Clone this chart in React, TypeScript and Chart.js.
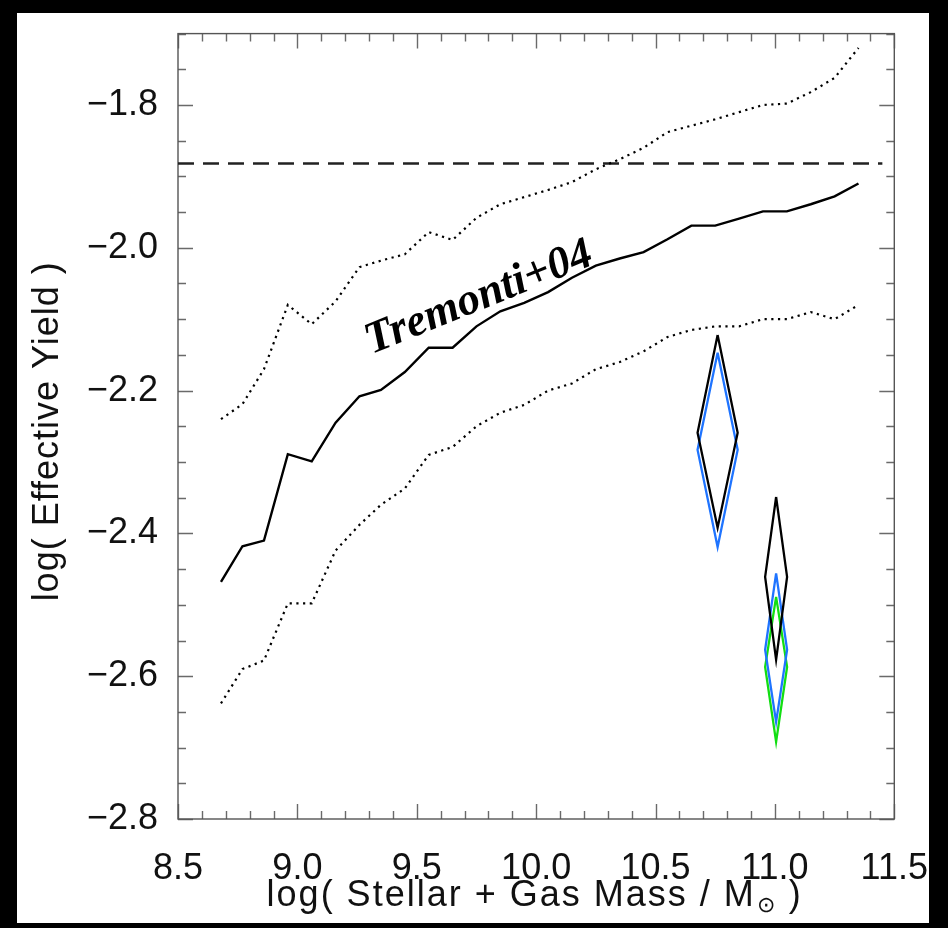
import React, { useEffect, useRef } from 'react';
import { Chart, registerables } from 'chart.js';

Chart.register(...registerables);

// ---- data ----
const massBins = [8.68, 8.77, 8.86, 8.96, 9.06, 9.16, 9.26, 9.35, 9.45, 9.55, 9.65, 9.75, 9.85, 9.95, 10.05, 10.15, 10.25, 10.35, 10.45, 10.55, 10.65, 10.75, 10.85, 10.95, 11.05, 11.15, 11.25, 11.35];
const medianYield = [-2.468, -2.418, -2.41, -2.289, -2.299, -2.245, -2.208, -2.199, -2.174, -2.14, -2.14, -2.11, -2.089, -2.077, -2.062, -2.042, -2.025, -2.015, -2.006, -1.988, -1.969, -1.969, -1.959, -1.949, -1.949, -1.939, -1.928, -1.91];
const upperYield = [-2.24, -2.219, -2.17, -2.08, -2.107, -2.075, -2.027, -2.018, -2.009, -1.978, -1.989, -1.958, -1.939, -1.929, -1.919, -1.908, -1.89, -1.876, -1.86, -1.838, -1.829, -1.82, -1.81, -1.8, -1.798, -1.782, -1.762, -1.72];
const lowerYield = [-2.638, -2.59, -2.578, -2.498, -2.498, -2.424, -2.388, -2.36, -2.337, -2.29, -2.279, -2.25, -2.231, -2.22, -2.2, -2.19, -2.17, -2.16, -2.145, -2.125, -2.115, -2.11, -2.11, -2.1, -2.1, -2.09, -2.1, -2.08];
const trueYield = -1.882;

const diamondX = [10.76, 10.76, 11.005, 11.005, 11.005];
const diamondHalfX = [0.084, 0.084, 0.046, 0.046, 0.046];
const diamondTop = [-2.122, -2.147, -2.349, -2.456, -2.489];
const diamondMid = [-2.259, -2.283, -2.461, -2.563, -2.587];
const diamondBottom = [-2.392, -2.419, -2.577, -2.664, -2.692];

const xTickLabels = ['8.5', '9.0', '9.5', '10.0', '10.5', '11.0', '11.5'];
const yTickLabels = ['−2.8', '−2.6', '−2.4', '−2.2', '−2.0', '−1.8'];
const labelText = 'Tremonti+04';
const labelPos = [9.31, -2.149];
const xTitle = ['log( Stellar + Gas Mass / M', '⊙', ' )'];
const yTitle = 'log( Effective Yield )';

// ---- styles ----
const diamondColors = ['#000000', '#1f74ff', '#000000', '#1f74ff', '#12de12'];
const diamondOrder = [1, 2, 1, 2, 3];
const SANS = '"Liberation Sans", Arial, sans-serif';

const framePlugin = {
  id: 'idlFrame',
  beforeDraw(chart: any) {
    const { ctx, width, height } = chart;
    ctx.save();
    ctx.fillStyle = '#000';
    ctx.fillRect(0, 0, width, height);
    ctx.fillStyle = '#fff';
    ctx.fillRect(17, 13, 912, 910);
    ctx.restore();
  },
  beforeDatasetsDraw(chart: any) {
    const { ctx, chartArea } = chart;
    const { left, right, top, bottom } = chartArea;
    const xs = chart.scales.x;
    const ys = chart.scales.y;
    ctx.save();
    ctx.strokeStyle = '#6a6a6a';
    ctx.lineWidth = 1.4;
    ctx.beginPath();
    for (let i = 0; i <= 30; i++) {
      const v = xs.min + i * 0.1;
      const p = Math.round(xs.getPixelForValue(v)) + 0.5;
      const len = i % 5 === 0 ? 15 : 8;
      ctx.moveTo(p, bottom);
      ctx.lineTo(p, bottom - len);
      ctx.moveTo(p, top);
      ctx.lineTo(p, top + len);
    }
    for (let i = 0; i <= 22; i++) {
      const v = ys.min + i * 0.05;
      const p = Math.round(ys.getPixelForValue(v)) + 0.5;
      const len = i % 4 === 0 ? 15 : 8;
      ctx.moveTo(left, p);
      ctx.lineTo(left + len, p);
      ctx.moveTo(right, p);
      ctx.lineTo(right - len, p);
    }
    ctx.stroke();
    ctx.strokeStyle = '#555';
    ctx.strokeRect(left, top, right - left, bottom - top);
    ctx.restore();
  },
  afterDraw(chart: any) {
    const { ctx, chartArea } = chart;
    const xs = chart.scales.x;
    const ys = chart.scales.y;

    // annotation
    ctx.save();
    ctx.fillStyle = '#000';
    ctx.font = 'italic bold 45px "Liberation Serif", "Times New Roman", serif';
    ctx.textAlign = 'left';
    ctx.textBaseline = 'alphabetic';
    ctx.translate(xs.getPixelForValue(labelPos[0]), ys.getPixelForValue(labelPos[1]));
    ctx.rotate((-22 * Math.PI) / 180);
    ctx.fillText(labelText, 0, 0);
    ctx.restore();

    // x-axis title with subscript
    ctx.save();
    ctx.fillStyle = '#111';
    ctx.textBaseline = 'alphabetic';
    ctx.textAlign = 'left';
    (ctx as any).letterSpacing = '2px';
    ctx.font = `36px ${SANS}`;
    const w1 = ctx.measureText(xTitle[0]).width;
    const w2 = ctx.measureText(xTitle[2]).width;
    ctx.font = `22px ${SANS}`;
    const ws = ctx.measureText(xTitle[1]).width;
    const cx = (chartArea.left + chartArea.right) / 2 - 2;
    const base = 906;
    let x = cx - (w1 + ws + w2) / 2;
    ctx.font = `36px ${SANS}`;
    ctx.fillText(xTitle[0], x, base);
    x += w1 + 1;
    ctx.font = `22px ${SANS}`;
    ctx.fillText(xTitle[1], x, base + 6);
    x += ws;
    ctx.font = `36px ${SANS}`;
    ctx.fillText(xTitle[2], x, base);
    ctx.restore();

    // y-axis title
    ctx.save();
    ctx.fillStyle = '#111';
    (ctx as any).letterSpacing = '1px';
    ctx.font = `36px ${SANS}`;
    ctx.textAlign = 'center';
    ctx.textBaseline = 'middle';
    ctx.translate(48, (chartArea.top + chartArea.bottom) / 2 + 5);
    ctx.rotate(-Math.PI / 2);
    ctx.fillText(yTitle, 0, 0);
    ctx.restore();
  },
};

function diamondPoints(i: number) {
  return [
    { x: diamondX[i], y: diamondTop[i] },
    { x: diamondX[i] + diamondHalfX[i], y: diamondMid[i] },
    { x: diamondX[i], y: diamondBottom[i] },
    { x: diamondX[i] - diamondHalfX[i], y: diamondMid[i] },
    { x: diamondX[i], y: diamondTop[i] },
  ];
}

export default function App() {
  const ref = useRef<HTMLCanvasElement | null>(null);

  useEffect(() => {
    document.body.style.margin = '0';
    document.body.style.background = '#000';
    const canvas = ref.current;
    if (!canvas) return;

    const toXY = (ys: number[]) => massBins.map((x, i) => ({ x, y: ys[i] }));

    const datasets: any[] = [
      {
        label: 'median',
        data: toXY(medianYield),
        borderColor: '#000',
        borderWidth: 2.4,
        pointRadius: 0,
        tension: 0,
        order: 4,
      },
      {
        label: 'upper',
        data: toXY(upperYield),
        borderColor: '#000',
        borderWidth: 2.2,
        borderDash: [2.2, 4.5],
        pointRadius: 0,
        order: 4,
      },
      {
        label: 'lower',
        data: toXY(lowerYield),
        borderColor: '#000',
        borderWidth: 2.2,
        borderDash: [2.2, 4.5],
        pointRadius: 0,
        order: 4,
      },
      {
        label: 'true yield',
        data: [
          { x: 8.5, y: trueYield },
          { x: 11.45, y: trueYield },
        ],
        borderColor: '#222',
        borderWidth: 2.4,
        borderDash: [16, 9],
        pointRadius: 0,
        order: 4,
      },
    ];
    for (let i = 0; i < diamondX.length; i++) {
      datasets.push({
        label: 'diamond' + i,
        data: diamondPoints(i),
        borderColor: diamondColors[i],
        borderWidth: 2.3,
        pointRadius: 0,
        tension: 0,
        order: diamondOrder[i],
      });
    }

    const chart = new Chart(canvas, {
      type: 'line',
      data: { datasets },
      options: {
        animation: false,
        responsive: false,
        maintainAspectRatio: false,
        devicePixelRatio: 1,
        layout: { padding: { left: 0, top: 33, right: 53, bottom: 0 } },
        plugins: { legend: { display: false }, tooltip: { enabled: false }, title: { display: false } },
        elements: { line: { borderJoinStyle: 'miter' } },
        scales: {
          x: {
            type: 'linear',
            min: 8.5,
            max: 11.5,
            grid: { display: false },
            border: { display: false },
            ticks: {
              stepSize: 0.5,
              padding: 20,
              color: '#111',
              font: { family: SANS, size: 36 },
              maxRotation: 0,
              autoSkip: false,
              callback: (v: any) => {
                const r = (Number(v) - 8.5) / 0.5;
                const idx = Math.round(r);
                return Math.abs(r - idx) < 1e-6 ? xTickLabels[idx] ?? '' : '';
              },
            },
            afterFit: (s: any) => {
              s.height = 109;
            },
          },
          y: {
            type: 'linear',
            min: -2.8,
            max: -1.7,
            grid: { display: false },
            border: { display: false },
            ticks: {
              stepSize: 0.2,
              includeBounds: true,
              padding: 12,
              color: '#111',
              font: { family: SANS, size: 36 },
              autoSkip: false,
              callback: (v: any) => {
                const r = (Number(v) + 2.8) / 0.2;
                const idx = Math.round(r);
                return Math.abs(r - idx) < 1e-6 ? yTickLabels[idx] ?? '' : '';
              },
            },
            afterFit: (s: any) => {
              s.width = 178;
            },
          },
        },
      },
      plugins: [framePlugin],
    });

    return () => chart.destroy();
  }, []);

  return (
    <div style={{ width: 948, height: 928, background: '#000' }}>
      <canvas ref={ref} width={948} height={928} style={{ display: 'block' }} />
    </div>
  );
}
